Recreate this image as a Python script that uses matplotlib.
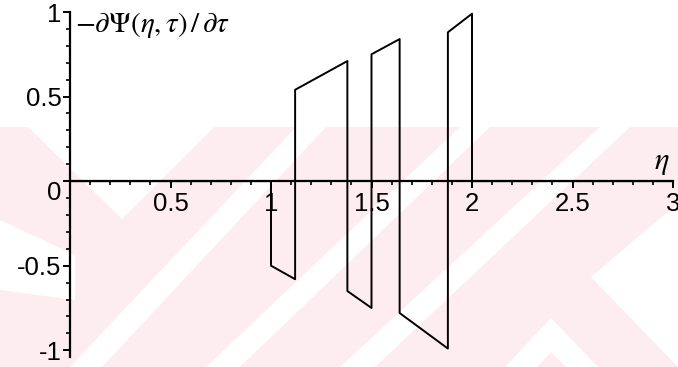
import matplotlib.pyplot as plt
from matplotlib.patches import Polygon
from matplotlib.ticker import MultipleLocator

# piecewise-linear derivative profile
eta = [0.0, 1.0, 1.0, 1.12, 1.12, 1.38, 1.38, 1.5, 1.5, 1.64, 1.64, 1.88, 1.88, 2.0, 2.0, 3.0]
dpsi = [0.0, 0.0, -0.5, -0.58, 0.54, 0.71, -0.65, -0.75, 0.75, 0.84, -0.78, -0.99, 0.88, 0.99, 0.0, 0.0]

x_ticks = [0.5, 1.0, 1.5, 2.0, 2.5, 3.0]
x_labels = ['0.5', '1', '1.5', '2', '2.5', '3']
y_ticks = [-1.0, -0.5, 0.0, 0.5, 1.0]
y_labels = ['-1', '-0.5', '0', '0.5', '1']

W, H = 678, 367
fig = plt.figure(figsize=(W / 100, H / 100), dpi=100)

# faint pink background stamp, drawn in pixel coords on its own axes
bg = fig.add_axes([0, 0, 1, 1], zorder=-1)
bg.set_xlim(0, W)
bg.set_ylim(H, 0)
bg.axis('off')
pink = '#fdedf0'
bg.add_patch(Polygon([(0, 127), (W, 127), (W, H), (0, H)],
                     facecolor=pink, edgecolor='none'))
gaps = [
    [(28, 127), (214, 127), (122, 219)],
    [(296, 127), (326, 127), (102, 367), (70, 367)],
    [(460, 127), (490, 127), (240, 367), (206, 367)],
    [(600, 127), (630, 127), (375, 367), (340, 367)],
    [(0, 220), (75, 255), (75, 300), (0, 290)],
    [(591, 277), (678, 203), (678, 367)],
    [(505, 367), (551, 318), (598, 367)],
]
for g in gaps:
    bg.add_patch(Polygon(g, facecolor='white', edgecolor='none'))
bg.add_patch(Polygon([(537, 367), (551, 352), (566, 367)],
                     facecolor=pink, edgecolor='none'))

ax = fig.add_axes([70 / W, 10 / H, 603 / W, 345 / H], zorder=1)
ax.set_facecolor('none')
ax.plot(eta, dpsi, color='black', lw=1.4)

ax.set_xlim(0, 3)
ax.set_ylim(-1.04, 1.0)

for s in ['top', 'right']:
    ax.spines[s].set_visible(False)
ax.spines['bottom'].set_position(('data', 0))
ax.spines['left'].set_linewidth(1.6)
ax.spines['bottom'].set_linewidth(1.6)

ax.set_xticks(x_ticks)
ax.set_xticklabels(x_labels)
ax.set_yticks(y_ticks)
ax.set_yticklabels(y_labels)
ax.xaxis.set_minor_locator(MultipleLocator(0.1))
ax.yaxis.set_minor_locator(MultipleLocator(0.1))

ax.tick_params(which='major', length=5, width=1.4, direction='out')
ax.tick_params(which='minor', length=3, width=1.2, direction='out')
ax.tick_params(axis='x', pad=3)
ax.tick_params(axis='y', pad=1)
for lab in ax.get_xticklabels() + ax.get_yticklabels():
    lab.set_family('Liberation Sans')
    lab.set_fontsize(18.5)
ax.get_yticklabels()[2].set_va('top')

plt.rcParams['mathtext.fontset'] = 'stix'
ax.text(0.025, 0.925, r'$-\partial\Psi(\eta,\tau)\,/\,\partial\tau$',
        fontsize=21, va='center', ha='left')
ax.text(2.945, 0.11, r'$\eta$', fontsize=22, va='center', ha='center')

fig.savefig('out.png', dpi=100)
